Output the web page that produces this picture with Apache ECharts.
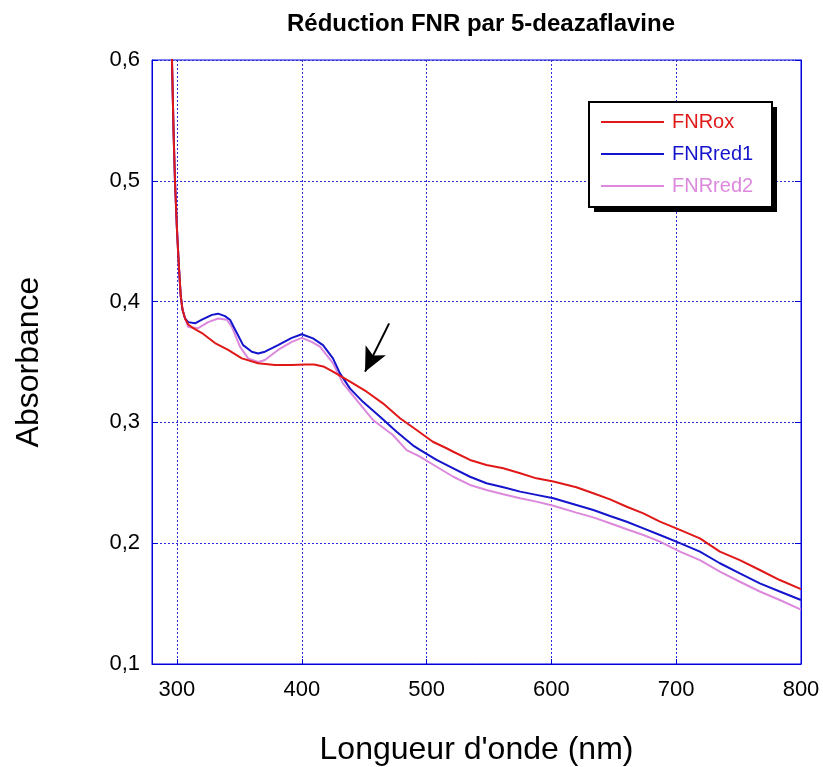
<!DOCTYPE html>
<html>
<head>
<meta charset="utf-8">
<script src="https://cdn.jsdelivr.net/npm/echarts@6/dist/echarts.min.js"></script>
<style>html,body{margin:0;padding:0;background:#fff}#c{width:823px;height:767px}</style>
</head>
<body>
<div id="c"></div>
<script>
const titleText = 'Réduction FNR par 5-deazaflavine';
const xName = "Longueur d'onde (nm)";
const yName = 'Absorbance';
const seriesNames = ['FNRox', 'FNRred1', 'FNRred2'];
const seriesColors = ['#e01818', '#1414cc', '#dc88dc'];

// steep common onset
const onset = [[294.5,0.66],[296,0.6],[297.3,0.54],[298.4,0.5],[300,0.46],[301.5,0.43],[303,0.405],[304.5,0.393],[306.5,0.386]];

const FNRox = onset.concat([[309,0.381],[313,0.378],[320,0.374],[330.5,0.3657],[341,0.36],[352,0.353],[365,0.349],[378.5,0.3475],[392,0.3475],[402.6,0.348],[410,0.348],[418,0.346],[425,0.342],[438.7,0.3337],[452,0.3254],[465,0.3158],[478.7,0.3034],[492,0.2937],[505,0.284],[516,0.2786],[521.4,0.2757],[534.8,0.2689],[548,0.2647],[561.5,0.262],[575,0.2579],[588,0.2537],[601.6,0.251],[620,0.2463],[633.6,0.2413],[647,0.2363],[660.4,0.2302],[673.7,0.2247],[687,0.2178],[703,0.211],[719,0.204],[735,0.193],[751,0.186],[767,0.1778],[783,0.1695],[800,0.162]]);

const FNRred1 = onset.concat([[309,0.383],[314.5,0.382],[320,0.385],[328,0.389],[333,0.39],[338.5,0.388],[342.5,0.385],[348,0.374],[353,0.364],[360,0.3585],[365,0.357],[370.5,0.3585],[381,0.364],[392,0.37],[400,0.373],[409,0.3696],[417,0.364],[425,0.353],[430.6,0.3406],[438.7,0.328],[449,0.317],[462.7,0.3047],[476,0.2923],[489,0.281],[494.7,0.2772],[508,0.2689],[521.4,0.262],[534.8,0.255],[548,0.2496],[561.5,0.2463],[575,0.2427],[588,0.24],[601.6,0.2372],[620,0.2316],[633.6,0.2275],[647,0.2225],[660.4,0.2178],[673.7,0.2123],[687,0.2068],[703,0.2],[719,0.193],[735,0.1834],[751,0.175],[767,0.1668],[783,0.16],[800,0.153]]);

const FNRred2 = onset.concat([[309,0.379],[317,0.378],[325,0.383],[333,0.386],[340,0.385],[344,0.379],[350.5,0.3627],[357,0.353],[365,0.35],[370.5,0.3517],[381,0.36],[392,0.3667],[400,0.37],[408,0.3667],[414.6,0.3627],[425,0.349],[433,0.3323],[444,0.3185],[457,0.302],[473,0.2896],[484,0.277],[494.7,0.2716],[508,0.2633],[521.4,0.255],[534.8,0.2482],[548,0.244],[561.5,0.2405],[575,0.2372],[588,0.2344],[601.6,0.231],[620,0.2253],[633.6,0.2214],[647,0.2165],[660.4,0.2115],[673.7,0.2068],[687,0.2013],[703,0.193],[719,0.186],[735,0.1764],[751,0.1681],[767,0.16],[783,0.153],[800,0.145]]);

const arrowFrom = [470, 0.382];
const arrowTo = [450.7, 0.342];

const seriesData = [FNRox, FNRred1, FNRred2];
const FONT = 'Liberation Sans, Arial, Helvetica, sans-serif';

const chart = echarts.init(document.getElementById('c'), null, {renderer: 'canvas'});
const series = seriesNames.map((n, i) => ({
  name: n,
  type: 'line',
  data: seriesData[i],
  showSymbol: false,
  symbol: 'none',
  clip: true,
  z: 3 - i + 2,
  lineStyle: {color: seriesColors[i], width: 2},
  itemStyle: {color: seriesColors[i]}
}));
series[0].markLine = {
  silent: true,
  symbol: ['none', 'arrow'],
  symbolSize: [17, 24],
  label: {show: false},
  lineStyle: {color: '#000', width: 2, type: 'solid'},
  data: [[{coord: arrowFrom}, {coord: arrowTo}]]
};

chart.setOption({
  animation: false,
  title: {
    text: titleText, left: 476, top: 7, textAlign: 'center',
    textStyle: {fontFamily: FONT, fontSize: 24, fontWeight: 'bold', color: '#000'}
  },
  graphic: [
    {type: 'rect', z: 20, shape: {x: 594, y: 107, width: 183, height: 105}, style: {fill: '#000'}},
    {type: 'rect', z: 21, shape: {x: 589, y: 102, width: 183, height: 105}, style: {fill: '#fff', stroke: '#000', lineWidth: 2}}
  ],
  legend: {
    orient: 'vertical', left: 589, top: 102, z: 30,
    padding: [10, 16, 10, 12],
    itemGap: 12,
    itemWidth: 63, itemHeight: 2,
    icon: 'rect',
    textStyle: {fontFamily: FONT, fontSize: 20, padding: [0, 0, 0, 3]},
    data: seriesNames.map((n, i) => ({name: n, textStyle: {color: seriesColors[i]}}))
  },
  grid: {left: 152, right: 22, top: 60, bottom: 103, show: true, borderColor: '#0000dd', borderWidth: 1, containLabel: false, outerBoundsMode: 'none'},
  xAxis: {
    type: 'value', min: 280, max: 800, splitNumber: 5,
    name: xName, nameLocation: 'middle', nameGap: 70,
    nameTextStyle: {fontFamily: FONT, fontSize: 32, color: '#000'},
    axisLine: {show: true, lineStyle: {color: '#0000dd'}},
    axisTick: {show: true, inside: true, length: 5, lineStyle: {color: '#0000dd'}},
    axisLabel: {showMinLabel: false, fontFamily: FONT, fontSize: 22, color: '#000', margin: 15},
    splitLine: {show: true, lineStyle: {color: '#2a2ad8', type: [2, 2], width: 1}}
  },
  yAxis: [{
    type: 'value', min: 0.1, max: 0.6, interval: 0.1,
    name: yName, nameLocation: 'middle', nameGap: 107,
    nameTextStyle: {fontFamily: FONT, fontSize: 32, color: '#000'},
    axisLine: {show: true, lineStyle: {color: '#0000dd'}},
    axisTick: {show: true, inside: true, length: 6, lineStyle: {color: '#0000dd'}},
    axisLabel: {fontFamily: FONT, fontSize: 22, color: '#000', margin: 12,
      formatter: v => (Math.round(v * 10) / 10).toFixed(1).replace('.', ',')},
    splitLine: {show: true, lineStyle: {color: '#2a2ad8', type: [2, 2], width: 1}}
  }, {
    type: 'value', min: 0.1, max: 0.6, interval: 0.1, position: 'right',
    axisLine: {show: true, lineStyle: {color: '#0000dd'}},
    axisTick: {show: true, inside: true, length: 6, lineStyle: {color: '#0000dd'}},
    axisLabel: {show: false}, splitLine: {show: false}
  }],
  series: series
});
</script>
</body>
</html>
